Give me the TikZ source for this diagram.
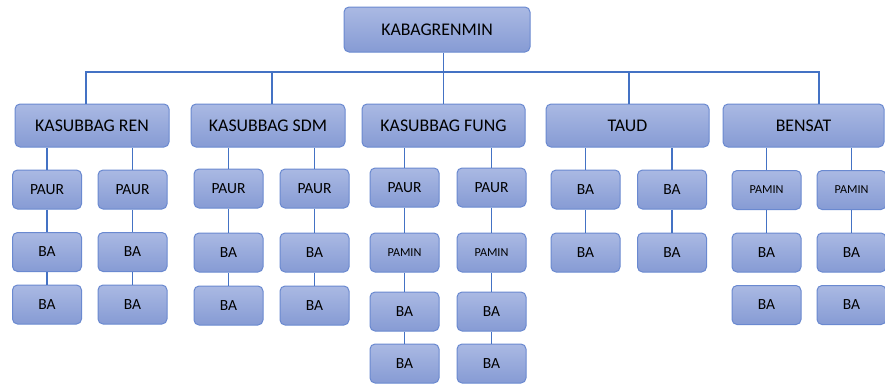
\documentclass[tikz,border=0pt]{standalone}
\usepackage{fontspec}
\setmainfont{Carlito}
\usetikzlibrary{positioning}
\definecolor{boxtop}{HTML}{AAB9E3}
\definecolor{boxbot}{HTML}{869BD4}
\definecolor{boxline}{HTML}{6A89D0}
\definecolor{link}{HTML}{4472C4}
\tikzset{
x=1pt, y=-1pt, % one unit is one pixel of the picture, y grows downwards
unit/.style={rounded corners=5pt, top color=boxtop, bottom color=boxbot, draw=boxline, line width=1pt, text=black, inner sep=0pt}, % every box
head/.style={unit, minimum width=154pt, minimum height=43pt, font=\fontsize{17.8}{20}\selectfont}, % the second row
sub/.style={unit, minimum width=69pt, minimum height=39pt, font=\fontsize{15.5}{18}\selectfont}, % PAUR and BA
pamin/.style={sub, font=\fontsize{12.2}{14}\selectfont}, % the smaller PAMIN text
link/.style={draw=link, line width=1.8pt}, % the connectors
}

\begin{document}
\begin{tikzpicture}
        \useasboundingbox (0,0) rectangle (885,383);

        \node[unit, minimum width=186pt, minimum height=45pt, font=\fontsize{17.8}{20}\selectfont] (top) at (437,29.5) {KABAGRENMIN};

        \node[head] (ren) at (92,125.5) {KASUBBAG REN};
        \node[head] (sdm) at (268,125.5) {KASUBBAG SDM};
        \node[head, minimum width=163pt] (fung) at (443.5,125.5) {KASUBBAG FUNG};
        \node[head, minimum width=163pt] (taud) at (627.5,125.5) {TAUD};
        \node[head, minimum width=161pt] (bensat) at (803.5,125.5) {BENSAT};

        % KASUBBAG REN
        \node[sub] (renA1) at (47,189.5) {PAUR};
        \node[sub] (renA2) at (47,252) {BA};
        \node[sub] (renA3) at (47,304.5) {BA};
        \node[sub] (renB1) at (132.5,189.5) {PAUR};
        \node[sub] (renB2) at (132.5,252) {BA};
        \node[sub] (renB3) at (132.5,304.5) {BA};

        % KASUBBAG SDM
        \node[sub] (sdmA1) at (228.5,188.5) {PAUR};
        \node[sub] (sdmA2) at (228.5,252.5) {BA};
        \node[sub] (sdmA3) at (228.5,305.5) {BA};
        \node[sub] (sdmB1) at (314.5,188.5) {PAUR};
        \node[sub] (sdmB2) at (314.5,252.5) {BA};
        \node[sub] (sdmB3) at (314.5,305.5) {BA};

        % KASUBBAG FUNG
        \node[sub] (fungA1) at (404.5,187.5) {PAUR};
        \node[pamin] (fungA2) at (404.5,252.5) {PAMIN};
        \node[sub] (fungA3) at (404.5,311.5) {BA};
        \node[sub] (fungA4) at (404.5,363.5) {BA};
        \node[sub] (fungB1) at (491.5,187.5) {PAUR};
        \node[pamin] (fungB2) at (491.5,252.5) {PAMIN};
        \node[sub] (fungB3) at (491.5,311.5) {BA};
        \node[sub] (fungB4) at (491.5,363.5) {BA};

        % TAUD
        \node[sub] (taudA1) at (585.5,189.5) {BA};
        \node[sub] (taudA2) at (585.5,252.5) {BA};
        \node[sub] (taudB1) at (672,189.5) {BA};
        \node[sub] (taudB2) at (672,252.5) {BA};

        % BENSAT
        \node[pamin] (bensatA1) at (766.5,190) {PAMIN};
        \node[sub] (bensatA2) at (766.5,252.5) {BA};
        \node[sub] (bensatA3) at (766.5,305) {BA};
        \node[pamin] (bensatB1) at (851.5,190) {PAMIN};
        \node[sub] (bensatB2) at (851.5,252.5) {BA};
        \node[sub] (bensatB3) at (851.5,305) {BA};

        \coordinate (bar) at (443,72);

        \draw[link] (top.south -| fung.north) -- (fung.north);
        \draw[link] ([xshift=-6pt]ren.north) |- (bar) -| ([xshift=15.5pt]bensat.north);
        \draw[link] ([xshift=4pt]sdm.north) -- ([xshift=4pt]sdm.north |- bar);
        \draw[link] ([xshift=1.5pt]taud.north) -- ([xshift=1.5pt]taud.north |- bar);

        \draw[link] (renA1.north) -- (renA1.north |- ren.south);
        \draw[link] (renB1.north) -- (renB1.north |- ren.south);
        \draw[link] (sdmA1.north) -- (sdmA1.north |- sdm.south);
        \draw[link] (sdmB1.north) -- (sdmB1.north |- sdm.south);
        \draw[link] (fungA1.north) -- (fungA1.north |- fung.south);
        \draw[link] (fungB1.north) -- (fungB1.north |- fung.south);
        \draw[link] (taudA1.north) -- (taudA1.north |- taud.south);
        \draw[link] (taudB1.north) -- (taudB1.north |- taud.south);
        \draw[link] (bensatA1.north) -- (bensatA1.north |- bensat.south);
        \draw[link] (bensatB1.north) -- (bensatB1.north |- bensat.south);

        \draw[link] (renA1) -- (renA2) -- (renA3);
        \draw[link] (renB1) -- (renB2) -- (renB3);
        \draw[link] (sdmA1) -- (sdmA2) -- (sdmA3);
        \draw[link] (sdmB1) -- (sdmB2) -- (sdmB3);
        \draw[link] (fungA1) -- (fungA2) -- (fungA3) -- (fungA4);
        \draw[link] (fungB1) -- (fungB2) -- (fungB3) -- (fungB4);
        \draw[link] (taudA1) -- (taudA2);
        \draw[link] (taudB1) -- (taudB2);
        \draw[link] (bensatA1) -- (bensatA2);
        \draw[link] (bensatB1) -- (bensatB2);
    \end{tikzpicture}
\end{document}
